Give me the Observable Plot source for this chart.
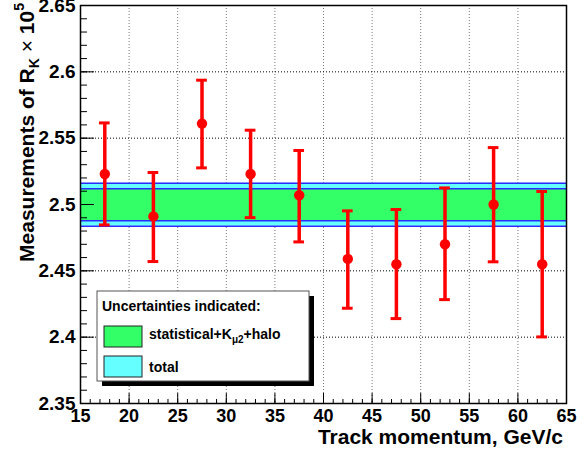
<!DOCTYPE html>
<html><head><meta charset="utf-8">
<script src="https://cdn.jsdelivr.net/npm/d3@7"></script>
<script src="https://cdn.jsdelivr.net/npm/@observablehq/plot@0.6"></script>
<style>body{margin:0;background:#fff}#chart{width:587px;height:451px}</style>
</head><body><div id="chart"></div>
<script>
// Data
const momentum = [17.5, 22.5, 27.5, 32.5, 37.5, 42.5, 47.5, 52.5, 57.5, 62.5];
const rk       = [2.523, 2.491, 2.561, 2.523, 2.507, 2.459, 2.455, 2.470, 2.500, 2.455];
const errLow   = [2.4846, 2.457, 2.5276, 2.4901, 2.4718, 2.4218, 2.414, 2.4283, 2.4568, 2.4002];
const errHigh  = [2.5615, 2.5241, 2.5937, 2.556, 2.5407, 2.4952, 2.4962, 2.5125, 2.5429, 2.5098];
const bandCenter = [2.4998];
const bandHalfStat = [0.012];
const bandHalfTotal = [0.0162];
const xTicks = [15, 20, 25, 30, 35, 40, 45, 50, 55, 60, 65];
const yTicks = [2.35, 2.4, 2.45, 2.5, 2.55, 2.6, 2.65];
const xMinor = d3.range(16, 65, 1);
const yMinor = d3.range(236, 265, 1).map(d => d / 100);
const xLabel = "Track momentum, GeV/c";
const legendTitle = "Uncertainties indicated:";

const W = 587, H = 451, mL = 80, mR = 21, mT = 5, mB = 48;
const fw = W - mL - mR, fh = H - mT - mB;
const font = "'Liberation Sans', Arial, Helvetica, sans-serif";

const pts = momentum.map((x, i) => ({x, y: rk[i], lo: errLow[i], hi: errHigh[i]}));
const c = bandCenter[0];
const bands = [
  {lo: c - bandHalfTotal[0], hi: c + bandHalfTotal[0], fill: "#66ffff"},
  {lo: c - bandHalfStat[0], hi: c + bandHalfStat[0], fill: "#33ff66"}
];
const edges = [c - bandHalfTotal[0], c + bandHalfTotal[0], c - bandHalfStat[0], c + bandHalfStat[0]];
const caps = pts.flatMap(d => [{x: d.x, y: d.lo}, {x: d.x, y: d.hi}]);

const plot = Plot.plot({
  width: W, height: H,
  marginLeft: mL, marginRight: mR, marginTop: mT, marginBottom: mB,
  style: {fontFamily: font, background: "#fff", overflow: "visible", color: "#000"},
  x: {domain: [15, 65]},
  y: {domain: [2.35, 2.65]},
  marks: [
    Plot.ruleX(xTicks.slice(1, -1), {x: d => d, stroke: "#777", strokeDasharray: "1,2"}),
    Plot.ruleY(yTicks.slice(1, -1), {y: d => d, stroke: "#000", strokeDasharray: "1,2"}),
    Plot.rect(bands, {x1: () => 15, x2: () => 65, y1: "lo", y2: "hi", fill: "fill"}),
    Plot.ruleY(edges, {y: d => d, stroke: "#2b2bff", strokeWidth: 1.5}),
    Plot.tickX(xMinor, {x: d => d, insetTop: fh - 4, stroke: "#000"}),
    Plot.tickX(xTicks, {x: d => d, insetTop: fh - 10, stroke: "#000"}),
    Plot.tickY(yMinor, {y: d => d, insetRight: fw - 7, stroke: "#000"}),
    Plot.tickY(yTicks, {y: d => d, insetRight: fw - 14, stroke: "#000"}),
    Plot.ruleX(pts, {x: "x", y1: "lo", y2: "hi", stroke: "#ff0000", strokeWidth: 3.5}),
    Plot.ruleY(caps, {x1: d => d.x - 0.55, x2: d => d.x + 0.55, y: "y", stroke: "#ff0000", strokeWidth: 3}),
    Plot.dot(pts, {x: "x", y: "y", r: 5.2, fill: "#ff0000", stroke: "none"}),
    Plot.axisX(xTicks, {tickSize: 0, tickPadding: 6, fontSize: 18, fontWeight: "bold", fill: "#000", label: null, tickFormat: d => String(d)}),
    Plot.axisY(yTicks, {tickSize: 0, tickPadding: 5, fontSize: 19, fontWeight: "bold", fill: "#000", label: null, tickFormat: d => String(+d.toFixed(2))}),
    Plot.frame({stroke: "#000", strokeWidth: 1.5})
  ]
});

const svg = d3.select(plot);
// X axis title
svg.append("text").attr("x", 563).attr("y", 444).attr("text-anchor", "end")
  .attr("font-family", font).attr("font-size", 21).attr("font-weight", "bold").attr("fill", "#000")
  .text(xLabel);
// Y axis title
const yt = svg.append("text").attr("transform", "translate(34,3) rotate(-90)")
  .attr("text-anchor", "end").attr("font-family", font).attr("font-size", 21)
  .attr("font-weight", "bold").attr("fill", "#000");
yt.append("tspan").text("Measurements of R");
yt.append("tspan").attr("font-size", 14).attr("dy", 5).text("K");
yt.append("tspan").attr("dy", -5).attr("font-weight", "normal").text(" \u00d7 ");
yt.append("tspan").text("10");
yt.append("tspan").attr("font-size", 14).attr("dy", -10).text("5");

// Legend
const lg = svg.append("g").attr("font-family", font).attr("font-weight", "bold")
  .attr("fill", "#000").attr("text-anchor", "start");
lg.append("rect").attr("x", 102).attr("y", 296).attr("width", 212).attr("height", 90).attr("fill", "#000");
lg.append("rect").attr("x", 97).attr("y", 291).attr("width", 212).attr("height", 90)
  .attr("fill", "#fff").attr("stroke", "#555").attr("stroke-width", 1);
lg.append("text").attr("x", 102).attr("y", 311).attr("font-size", 14).text(legendTitle);
lg.append("rect").attr("x", 104).attr("y", 326).attr("width", 38).attr("height", 21)
  .attr("fill", "#33ff66").attr("stroke", "#222").attr("stroke-width", 1);
lg.append("rect").attr("x", 104).attr("y", 356).attr("width", 38).attr("height", 21)
  .attr("fill", "#66ffff").attr("stroke", "#222").attr("stroke-width", 1);
const l1 = lg.append("text").attr("x", 149).attr("y", 339).attr("font-size", 14);
l1.append("tspan").text("statistical+K");
l1.append("tspan").attr("font-size", 10).attr("dy", 4).text("\u03bc2");
l1.append("tspan").attr("dy", -4).text("+halo");
lg.append("text").attr("x", 149).attr("y", 372).attr("font-size", 14).text("total");

document.getElementById("chart").appendChild(plot);
</script>
</body></html>
